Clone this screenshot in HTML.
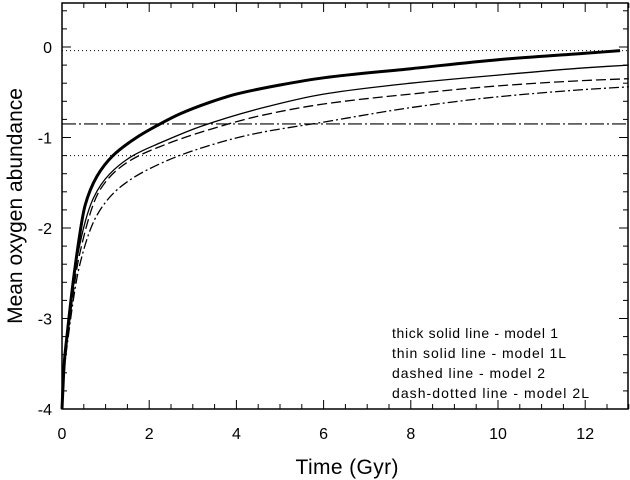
<!DOCTYPE html>
<html><head><meta charset="utf-8"><style>
body{margin:0;background:#fff;}
svg{display:block;font-family:"Liberation Sans",sans-serif;}
</style></head><body>
<svg width="630" height="480">
<g id="ticks"></g>
<g id="grid"></g>
<g id="series"></g>
<rect x="62" y="3" width="566" height="406" fill="none" stroke="#000" stroke-width="1.5"/>
<g id="labels" font-size="16"></g>
<text x="347" y="474" text-anchor="middle" font-size="21" textLength="103">Time (Gyr)</text>
<text transform="translate(22,206) rotate(-90)" text-anchor="middle" font-size="21">Mean oxygen abundance</text>
<g font-size="14">
<text x="392" y="338" textLength="166">thick solid line - model 1</text>
<text x="392" y="358" textLength="174">thin solid line - model 1L</text>
<text x="392" y="378" textLength="153">dashed line - model 2</text>
<text x="392" y="398" textLength="197">dash-dotted line - model 2L</text>
</g>
</svg>
<script>
const times1=[0,0.05,0.12,0.3,0.53,0.8,1.17,1.71,2.25,2.7,3.4,4,5,6,8,10,12,12.8];
const model1=[-4,-3.5,-3.17,-2.43,-1.75,-1.43,-1.2,-1.0,-0.85,-0.74,-0.61,-0.52,-0.42,-0.34,-0.24,-0.14,-0.07,-0.04];
const times1L=[0,0.05,0.13,0.34,0.72,1.1,1.63,2.25,3.17,4.54,6,8,10,12,13];
const model1L=[-4,-3.55,-3.2,-2.35,-1.67,-1.4,-1.2,-1.06,-0.88,-0.68,-0.52,-0.4,-0.31,-0.23,-0.2];
const times2=[0,0.05,0.13,0.4,0.87,1.48,2.25,3.4,4.54,6,8,10,12,13];
const model2=[-4,-3.55,-3.2,-2.3,-1.58,-1.28,-1.10,-0.91,-0.76,-0.63,-0.52,-0.43,-0.37,-0.35];
const times2L=[0,0.05,0.13,0.41,0.8,1.33,2.25,3.17,4.4,6,8,10,12,13];
const model2L=[-4,-3.6,-3.25,-2.4,-1.86,-1.55,-1.29,-1.12,-0.96,-0.83,-0.67,-0.55,-0.47,-0.44];
const refLines=[-0.04,-1.2,-0.85];
const xTicks=[0,2,4,6,8,10,12];
const yTicks=[0,-1,-2,-3,-4];
const X=v=>62+v*43.6, Y=v=>47-v*90.5;
const NS="http://www.w3.org/2000/svg";
function mk(t,a,p){const e=document.createElementNS(NS,t);for(const k in a)e.setAttribute(k,a[k]);p.appendChild(e);return e;}
const tk=document.getElementById('ticks');
for(let v=0;v<=13.001;v+=0.5){const major=Math.abs(v%2)<1e-6;const L=major?9:5;
 let l=mk('line',{x1:X(v),x2:X(v),y1:409,y2:409-L,stroke:'#000'},tk);
 
 l=mk('line',{x1:X(v),x2:X(v),y1:3,y2:3+L,stroke:'#000'},tk);
 }
for(let i=-20;i<=2;i++){const v=i*0.2;const major=i%5===0;const L=major?9:5;
 let l=mk('line',{x1:62,x2:62+L,y1:Y(v),y2:Y(v),stroke:'#000'},tk);
 
 l=mk('line',{x1:628,x2:628-L,y1:Y(v),y2:Y(v),stroke:'#000'},tk);
 }
const lb=document.getElementById('labels');
xTicks.forEach(v=>{const t=mk('text',{x:X(v),y:439,'text-anchor':'middle'},lb);t.textContent=v;
 });
yTicks.forEach(v=>{const t=mk('text',{x:52,y:Y(v)+6,'text-anchor':'end'},lb);t.textContent=v;
 });
const g=document.getElementById('grid');
refLines.forEach((v,i)=>{const l=mk('line',{x1:62,x2:628,y1:Y(v),y2:Y(v),stroke:'#000','stroke-width':i==2?1.2:1,'stroke-dasharray':i==2?'14,3,2,3':'1,3'},g);
 });
const s=document.getElementById('series');
function path(xs,ys,w,dash,name){
 const n=xs.length,dl=[],m=[];
 for(let i=0;i<n-1;i++)dl.push((ys[i+1]-ys[i])/(xs[i+1]-xs[i]));
 m[0]=dl[0];m[n-1]=dl[n-2];
 for(let i=1;i<n-1;i++){if(dl[i-1]*dl[i]<=0)m[i]=0;else{const w1=2*(xs[i+1]-xs[i])+(xs[i]-xs[i-1]),w2=(xs[i+1]-xs[i])+2*(xs[i]-xs[i-1]);m[i]=(w1+w2)/(w1/dl[i-1]+w2/dl[i]);}}
 let d='M'+X(xs[0]).toFixed(1)+','+Y(ys[0]).toFixed(1);
 for(let i=0;i<n-1;i++){const h=xs[i+1]-xs[i];
  const c1x=xs[i]+h/3,c1y=ys[i]+m[i]*h/3,c2x=xs[i+1]-h/3,c2y=ys[i+1]-m[i+1]*h/3;
  d+='C'+X(c1x).toFixed(1)+','+Y(c1y).toFixed(1)+' '+X(c2x).toFixed(1)+','+Y(c2y).toFixed(1)+' '+X(xs[i+1]).toFixed(1)+','+Y(ys[i+1]).toFixed(1);}
 const p=mk('path',{d:d,fill:'none',stroke:'#000','stroke-width':w,'stroke-dasharray':dash,'stroke-linejoin':'round'},s);
 }
path(times1,model1,3,'none','model1-line');
path(times1L,model1L,1.3,'none','model1l-line');
path(times2,model2,1.3,'10,4','model2-line');
path(times2L,model2L,1.3,'10,3,2,3','model2l-line');
</script>
</body></html>
